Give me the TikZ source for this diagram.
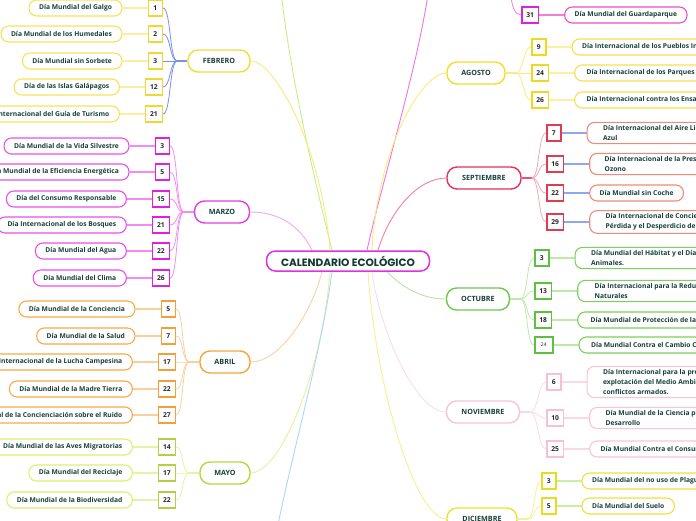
\documentclass[tikz,border=0pt]{standalone}
\usepackage{fontspec}
\setmainfont{Open Sans}
\newfontfamily\titlefont{Poppins}
\usetikzlibrary{positioning,backgrounds}
\definecolor{txt}{HTML}{17403A}
\definecolor{ttl}{HTML}{0E3B2C}
\definecolor{cmag}{HTML}{E030E0}
% febrero
\definecolor{febM}{HTML}{F2DC3C}\definecolor{febN}{HTML}{F0D830}\definecolor{febL}{HTML}{F6E25A}
\definecolor{febK}{HTML}{FBEEA0}\definecolor{febB}{HTML}{7B8FF0}\definecolor{febC}{HTML}{F8EA80}
% enero / junio / julio
\definecolor{eneC}{HTML}{C5EE8A}\definecolor{junC}{HTML}{A8D8FA}\definecolor{julC}{HTML}{EC74EC}
\definecolor{julN}{HTML}{E020E0}\definecolor{julL}{HTML}{EE4FC8}\definecolor{julK}{HTML}{F080D0}
% marzo
\definecolor{marM}{HTML}{E53DE5}\definecolor{marN}{HTML}{E020E0}\definecolor{marL}{HTML}{EA4FEA}
\definecolor{marK}{HTML}{F28CF2}\definecolor{marC}{HTML}{F2A8F2}
% abril
\definecolor{abrM}{HTML}{F5A43A}\definecolor{abrN}{HTML}{F2A03C}\definecolor{abrL}{HTML}{F6AB48}
\definecolor{abrK}{HTML}{FBCF9C}\definecolor{abrC}{HTML}{FCD0A0}
% mayo
\definecolor{mayM}{HTML}{BCD43C}\definecolor{mayN}{HTML}{B8CC48}\definecolor{mayL}{HTML}{DCF06C}
\definecolor{mayK}{HTML}{E6F2A8}\definecolor{mayC}{HTML}{E4F0A0}
% agosto
\definecolor{agoM}{HTML}{F4DC2C}\definecolor{agoN}{HTML}{F0D820}\definecolor{agoL}{HTML}{F6E050}
\definecolor{agoK}{HTML}{FCF0A0}\definecolor{agoC}{HTML}{FAEA7C}
% septiembre
\definecolor{sepM}{HTML}{E4305C}\definecolor{sepN}{HTML}{E23A50}\definecolor{sepL}{HTML}{F08A78}
\definecolor{sepK}{HTML}{8CA8F0}\definecolor{sepB}{HTML}{F4A8B4}\definecolor{sepJ}{HTML}{E8507A}\definecolor{sepC}{HTML}{F080A0}
% octubre
\definecolor{octM}{HTML}{6CC84C}\definecolor{octN}{HTML}{5EC040}\definecolor{octL}{HTML}{7CD05C}
\definecolor{octK}{HTML}{C0E8A8}\definecolor{octC}{HTML}{B8E4A0}
% noviembre
\definecolor{novM}{HTML}{F8C4D8}\definecolor{novN}{HTML}{F8C0D8}\definecolor{novL}{HTML}{F8C4DA}
\definecolor{novK}{HTML}{FCD8E6}\definecolor{novC}{HTML}{FCDCE8}
% diciembre
\definecolor{dicM}{HTML}{EEE030}\definecolor{dicN}{HTML}{E8DC20}\definecolor{dicL}{HTML}{F0E040}
\definecolor{dicB}{HTML}{F4F0A0}\definecolor{dicK}{HTML}{C8F0A0}\definecolor{dicC}{HTML}{F6F090}
\begin{document}
\begin{tikzpicture}[x=1pt,y=-1pt,
  lbl/.style={draw=#1, rounded corners=7.5pt, line width=1.1pt, fill=white, inner xsep=10pt, inner ysep=3pt, minimum height=16pt, font=\fontsize{6.7}{10}\selectfont\bfseries, text=txt, align=left},
  lblw/.style={lbl=#1, inner xsep=16pt},
  num/.style={draw=#1, line width=1.5pt, fill=white, inner xsep=4.5pt, inner ysep=0pt, minimum width=14pt, minimum height=16pt, font=\fontsize{6.7}{8}\selectfont\bfseries, text=black!85},
  month/.style={draw=#1, rounded corners=10pt, line width=1.4pt, fill=white, minimum height=22pt, inner xsep=4pt, font=\fontsize{7.2}{8}\selectfont\bfseries, text=txt},
  cline/.style={draw=#1, line width=0.9pt},
  bline/.style={draw=#1, line width=0.8pt},
  kline/.style={draw=#1, line width=1.5pt},
  jline/.style={draw=#1, line width=2pt}]
\useasboundingbox (0,0) rectangle (696,520);
\clip (0,0) rectangle (696,520);

% central
\node[draw=cmag, rounded corners=9pt, line width=1.5pt, fill=white, minimum width=163pt, minimum height=20pt,
  font=\titlefont\bfseries\fontsize{10.6}{11}\selectfont, text=ttl] (c) at (348,261) {CALENDARIO ECOLÓGICO};

% off-canvas ends
\coordinate (ene) at (280,-20);
\coordinate (jul) at (430,-20);
\coordinate (jun) at (275,540);
\coordinate (julb) at (511,-8);

% ---------- FEBRERO
\node[month=febM, minimum width=62pt] (feb) at (219,61) {FEBRERO};
\node[num=febN, anchor=east] (f1) at (163,8) {1};
\node[num=febN, anchor=east] (f2) at (163,34) {2};
\node[num=febN, anchor=east] (f3) at (163,61) {3};
\node[num=febN, anchor=east] (f12) at (163,87) {12};
\node[num=febN, anchor=east] (f21) at (163,114) {21};
\node[lbl=febL, left=25pt of f1] (lf1) {Día Mundial del Galgo};
\node[lbl=febL, left=25pt of f2] (lf2) {Día Mundial de los Humedales};
\node[lbl=febL, left=25pt of f3] (lf3) {Día Mundial sin Sorbete};
\node[lbl=febL, left=25pt of f12] (lf12) {Día de las Islas Galápagos};
\node[lbl=febL, left=25pt of f21] (lf21) {Día Internacional del Guía de Turismo};

% ---------- MARZO
\node[month=marM, minimum width=55pt] (mar) at (222,212) {MARZO};
\node[num=marN, anchor=east] (m3) at (170,146) {3};
\node[num=marN, anchor=east] (m5) at (170,172) {5};
\node[num=marN, anchor=east] (m15) at (170,199) {15};
\node[num=marN, anchor=east] (m21) at (170,225) {21};
\node[num=marN, anchor=east] (m22) at (170,251) {22};
\node[num=marN, anchor=east] (m26) at (170,278) {26};
\node[lbl=marL, left=25pt of m3] (lm3) {Día Mundial de la Vida Silvestre};
\node[lbl=marL, left=25pt of m5] (lm5) {Día Mundial de la Eficiencia Energética};
\node[lbl=marL, left=25pt of m15] (lm15) {Día del Consumo Responsable};
\node[lbl=marL, left=25pt of m21] (lm21) {Día Internacional de los Bosques};
\node[lbl=marL, left=25pt of m22] (lm22) {Día Mundial del Agua};
\node[lbl=marL, left=25pt of m26] (lm26) {Día Mundial del Clima};

% ---------- ABRIL
\node[month=abrM, minimum width=50pt] (abr) at (225,362) {ABRIL};
\node[num=abrN, anchor=east] (a5) at (176,309) {5};
\node[num=abrN, anchor=east] (a7) at (176,336) {7};
\node[num=abrN, anchor=east] (a17) at (176,362) {17};
\node[num=abrN, anchor=east] (a22) at (176,389) {22};
\node[num=abrN, anchor=east] (a27) at (176,415) {27};
\node[lbl=abrL, left=25pt of a5] (la5) {Día Mundial de la Conciencia};
\node[lbl=abrL, left=25pt of a7] (la7) {Día Mundial de la Salud};
\node[lbl=abrL, left=25pt of a17] (la17) {Día Internacional de la Lucha Campesina};
\node[lbl=abrL, left=25pt of a22] (la22) {Día Mundial de la Madre Tierra};
\node[lbl=abrL, left=25pt of a27] (la27) {Día Internacional de la Concienciación sobre el Ruido};

% ---------- MAYO
\node[month=mayM, minimum width=50pt] (may) at (225,473) {MAYO};
\node[num=mayN, anchor=east] (y14) at (176,447) {14};
\node[num=mayN, anchor=east] (y17) at (176,473) {17};
\node[num=mayN, anchor=east] (y22) at (176,500) {22};
\node[lbl=mayL, left=25pt of y14] (ly14) {Día Mundial de las Aves Migratorias};
\node[lbl=mayL, left=25pt of y17] (ly17) {Día Mundial del Reciclaje};
\node[lbl=mayL, left=25pt of y22] (ly22) {Día Mundial de la Biodiversidad};

% ---------- JULIO (31)
\node[num=julN, anchor=west] (n31) at (521,15) {31};
\node[lbl=julL, right=25pt of n31] (l31) {Día Mundial del Guardaparque};

% ---------- AGOSTO
\node[month=agoM, minimum width=58pt] (ago) at (476,73) {AGOSTO};
\node[num=agoN, anchor=west] (g9) at (531,47) {9};
\node[num=agoN, anchor=west] (g24) at (531,73) {24};
\node[num=agoN, anchor=west] (g26) at (531,100) {26};
\node[lbl=agoL, right=25pt of g9] (lg9) {Día Internacional de los Pueblos Indígenas};
\node[lbl=agoL, right=25pt of g24, inner xsep=12pt] (lg24) {Día Internacional de los Parques Nacionales};
\node[lbl=agoL, right=25pt of g26, inner xsep=12pt] (lg26) {Día Internacional contra los Ensayos Nucleares};

% ---------- SEPTIEMBRE
\node[month=sepM, minimum width=74pt] (sep) at (484,178) {SEPTIEMBRE};
\node[num=sepN, anchor=west] (s7) at (546,133) {7};
\node[num=sepN, anchor=west] (s16) at (546,164) {16};
\node[num=sepN, anchor=west] (s22) at (546,193) {22};
\node[num=sepN, anchor=west] (s29) at (546,222) {29};
\node[lblw=sepL, right=25pt of s7] (ls7) {Día Internacional del Aire Limpio por un Cielo\\Azul};
\node[lblw=sepL, right=25pt of s16, inner xsep=15pt] (ls16) {Día Internacional de la Preservación de la Capa de\\Ozono};
\node[lbl=sepL, right=25pt of s22] (ls22) {Día Mundial sin Coche};
\node[lblw=sepL, right=25pt of s29] (ls29) {Día Internacional de Concienciación sobre la\\Pérdida y el Desperdicio de Alimentos};

% ---------- OCTUBRE
\node[month=octM, minimum width=63pt] (oct) at (478,299) {OCTUBRE};
\node[num=octN, anchor=west] (o3) at (534,258) {3};
\node[num=octN, anchor=west] (o13) at (534,291) {13};
\node[num=octN, anchor=west] (o18) at (534,320) {18};
\node[num=octN, anchor=west, font=\fontsize{5}{6}\selectfont, minimum width=18pt] (o24) at (534,345) {24};
\node[lblw=octL, right=25pt of o3] (lo3) {Día Mundial del Hábitat y el Día Mundial de los\\Animales.};
\node[lblw=octL, right=25pt of o13, inner xsep=17pt] (lo13) {Día Internacional para la Reducción de Desastres\\Naturales};
\node[lbl=octL, right=25pt of o18, inner xsep=13pt] (lo18) {Día Mundial de Protección de la Naturaleza};
\node[lbl=octL, right=25pt of o24, inner xsep=12pt] (lo24) {Día Mundial Contra el Cambio Climático};

% ---------- NOVIEMBRE
\node[month=novM, minimum width=73pt] (nov) at (483,412) {NOVIEMBRE};
\node[num=novN, anchor=west] (v6) at (546,382) {6};
\node[num=novN, anchor=west] (v10) at (546,418) {10};
\node[num=novN, anchor=west] (v25) at (546,449) {25};
\node[lblw=novL, right=25pt of v6] (lv6) {Día Internacional para la prevención de la\\explotación del Medio Ambiente en la guerra y los\\conflictos armados.};
\node[lblw=novL, right=25pt of v10] (lv10) {Día Mundial de la Ciencia para la Paz y el\\Desarrollo};
\node[lbl=novL, right=25pt of v25, inner xsep=11pt] (lv25) {Día Mundial Contra el Consumismo};

% ---------- DICIEMBRE
\node[month=dicM, minimum width=70pt] (dic) at (482,519) {DICIEMBRE};
\node[num=dicN, anchor=west] (d3) at (541,481) {3};
\node[num=dicN, anchor=west] (d5) at (541,506) {5};
\node[lbl=dicL, right=25pt of d3] (ld3) {Día Mundial del no uso de Plaguicidas};
\node[lbl=dicL, right=25pt of d5] (ld5) {Día Mundial del Suelo};

\begin{pgfonlayer}{background}
% center connectors
\draw[cline=eneC] ([xshift=-16pt]c.north) .. controls (312,170) and (287,60) .. (ene);
\draw[cline=febC] ([xshift=-18pt]c.north) .. controls +(-8,-100) and +(25,0) .. (feb.east);
\draw[cline=marC] ([xshift=-36pt]c.north) .. controls +(-12,-25) and +(28,0) .. (mar.east);
\draw[cline=julC] ([xshift=19pt]c.north) .. controls (385,170) and (420,60) .. (jul);
\draw[cline=agoC] ([xshift=24pt]c.north) .. controls +(5,-100) and +(-25,0) .. (ago.west);
\draw[cline=sepC] ([xshift=30pt]c.north) .. controls +(12,-40) and +(-28,0) .. (sep.west);
\draw[cline=abrC] ([xshift=-26pt]c.south) .. controls +(-10,40) and +(30,0) .. (abr.east);
\draw[cline=mayC] ([xshift=-18pt]c.south) .. controls +(-8,100) and +(30,0) .. (may.east);
\draw[cline=junC] ([xshift=-16pt]c.south) .. controls (322,350) and (290,460) .. (jun);
\draw[cline=dicC] ([xshift=20pt]c.south) .. controls +(8,120) and +(-30,0) .. (dic.west);
\draw[cline=novC] ([xshift=24pt]c.south) .. controls +(8,60) and +(-30,0) .. (nov.west);
\draw[cline=octC] ([xshift=39pt]c.south) .. controls +(15,15) and +(-25,0) .. (oct.west);

% month -> numbers (left)
\draw[jline=febB] (feb.west) -- ++(-10,0) coordinate (fj);
\foreach \n in {f1,f2,f3,f12,f21} \draw[bline=febB] (fj) .. controls +(-8,0) and +(8,0) .. (\n.east);
\draw[jline=marK] (mar.west) -- ++(-10,0) coordinate (mj);
\foreach \n in {m3,m5,m15,m21,m22,m26} \draw[bline=marK] (mj) .. controls +(-8,0) and +(8,0) .. (\n.east);
\draw[jline=abrK] (abr.west) -- ++(-10,0) coordinate (aj);
\foreach \n in {a5,a7,a17,a22,a27} \draw[bline=abrK] (aj) .. controls +(-8,0) and +(8,0) .. (\n.east);
\draw[jline=mayK] (may.west) -- ++(-10,0) coordinate (yj);
\foreach \n in {y14,y17,y22} \draw[bline=mayK] (yj) .. controls +(-8,0) and +(8,0) .. (\n.east);
% month -> numbers (right)
\draw[bline=julK] (julb) .. controls +(0,14) and +(-6,0) .. (n31.west);
\draw[jline=agoC] (ago.east) -- ++(10,0) coordinate (gj);
\foreach \n in {g9,g24,g26} \draw[bline=agoC] (gj) .. controls +(8,0) and +(-8,0) .. (\n.west);
\draw[jline=sepJ] (sep.east) -- ++(10,0) coordinate (sj);
\foreach \n in {s7,s16,s22,s29} \draw[bline=sepB] (sj) .. controls +(8,0) and +(-8,0) .. (\n.west);
\draw[jline=octK] (oct.east) -- ++(10,0) coordinate (oj);
\foreach \n in {o3,o13,o18,o24} \draw[bline=octK] (oj) .. controls +(8,0) and +(-8,0) .. (\n.west);
\draw[jline=novK] (nov.east) -- ++(10,0) coordinate (vj);
\foreach \n in {v6,v10,v25} \draw[bline=novK] (vj) .. controls +(8,0) and +(-8,0) .. (\n.west);
\draw[jline=dicB] (dic.east) -- ++(10,0) coordinate (dj);
\foreach \n in {d3,d5} \draw[bline=dicC] (dj) .. controls +(7,0) and +(-7,0) .. (\n.west);

% number -> label links
\foreach \n in {f1,f2,f3,f12,f21} \draw[kline=febK] (\n.west) -- (l\n.east);
\foreach \n in {m3,m5,m15,m21,m22,m26} \draw[kline=marK] (\n.west) -- (l\n.east);
\foreach \n in {a5,a7,a17,a22,a27} \draw[kline=abrK] (\n.west) -- (l\n.east);
\foreach \n in {y14,y17,y22} \draw[kline=mayK] (\n.west) -- (l\n.east);
\draw[kline=julK] (n31.east) -- (l31.west);
\foreach \n in {g9,g24,g26} \draw[kline=agoK] (\n.east) -- (l\n.west);
\foreach \n in {s7,s16,s22,s29} \draw[kline=sepK] (\n.east) -- (l\n.west);
\foreach \n in {o3,o13,o18,o24} \draw[kline=octK] (\n.east) -- (l\n.west);
\foreach \n in {v6,v10,v25} \draw[kline=novK] (\n.east) -- (l\n.west);
\foreach \n in {d3,d5} \draw[kline=dicK] (\n.east) -- (l\n.west);
\end{pgfonlayer}
\end{tikzpicture}
\end{document}
